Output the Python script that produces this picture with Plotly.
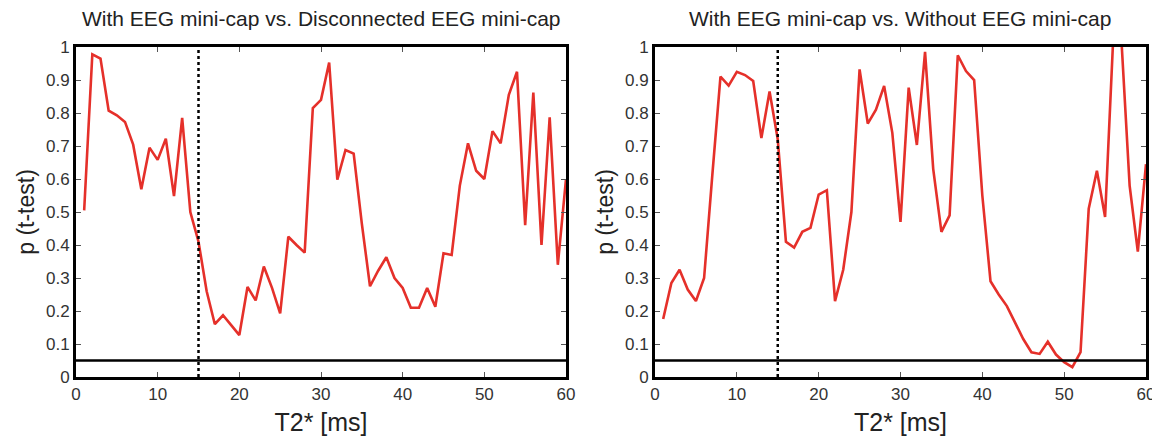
import plotly.graph_objects as go

t_ms = list(range(1, 61))
p_disconnected = [0.505, 0.978, 0.965, 0.807, 0.793, 0.773, 0.704, 0.569, 0.695, 0.658,
                  0.722, 0.548, 0.785, 0.50, 0.41, 0.26, 0.16, 0.187, 0.157, 0.127,
                  0.273, 0.232, 0.335, 0.27, 0.193, 0.425, 0.40, 0.377, 0.815, 0.84,
                  0.953, 0.598, 0.688, 0.677, 0.465, 0.275, 0.322, 0.363, 0.30, 0.27,
                  0.21, 0.21, 0.27, 0.213, 0.375, 0.37, 0.58, 0.708, 0.625, 0.60,
                  0.745, 0.708, 0.855, 0.925, 0.46, 0.862, 0.40, 0.787, 0.34, 0.60]
p_without = [0.176, 0.285, 0.325, 0.265, 0.23, 0.30, 0.61, 0.91, 0.883, 0.925,
             0.915, 0.897, 0.724, 0.865, 0.72, 0.41, 0.392, 0.44, 0.452, 0.553,
             0.566, 0.23, 0.325, 0.50, 0.932, 0.768, 0.81, 0.882, 0.74, 0.47,
             0.877, 0.703, 0.985, 0.63, 0.44, 0.49, 0.975, 0.927, 0.90, 0.55,
             0.29, 0.25, 0.215, 0.165, 0.115, 0.075, 0.07, 0.107, 0.068, 0.045,
             0.03, 0.075, 0.51, 0.625, 0.485, 1.03, 1.02, 0.58, 0.38, 0.645]

titles = ["With EEG mini-cap vs. Disconnected EEG mini-cap",
          "With EEG mini-cap vs. Without EEG mini-cap"]
x_ticks = [0, 10, 20, 30, 40, 50, 60]
y_ticks = [0, 0.1, 0.2, 0.3, 0.4, 0.5, 0.6, 0.7, 0.8, 0.9, 1]
y_ticktext = ["0", "0.1", "0.2", "0.3", "0.4", "0.5", "0.6", "0.7", "0.8", "0.9", "1"]
threshold = 0.05
echo_time = 15

# page has an 8px body margin; figure sized to fill the rest of the window
OFF = 8
W, H = 1160 - OFF, 441 - OFF
FONT = "Liberation Sans, Arial, sans-serif"
RED = "#e5302a"

fig = go.Figure()
fig.add_trace(go.Scatter(x=t_ms, y=p_disconnected, mode="lines",
                         line=dict(color=RED, width=2.6), xaxis="x", yaxis="y",
                         showlegend=False))
fig.add_trace(go.Scatter(x=t_ms, y=p_without, mode="lines",
                         line=dict(color=RED, width=2.6), xaxis="x2", yaxis="y2",
                         showlegend=False))

def px_x(v):
    return (v - OFF) / W

def px_y(v):
    return 1 - (v - OFF) / H

ydom = [px_y(377), px_y(47)]
xdoms = [[px_x(76), px_x(566)], [px_x(655), px_x(1146)]]

axis_common = dict(showline=True, linewidth=3, linecolor="black", mirror="ticks",
                   ticks="inside", ticklen=5, tickwidth=1, tickcolor="#555",
                   showgrid=False, zeroline=False, automargin=False,
                   tickfont=dict(family=FONT, size=17, color="#333"))

layout = dict(width=W, height=H, margin=dict(l=0, r=0, t=0, b=0),
              paper_bgcolor="white", plot_bgcolor="white",
              font=dict(family=FONT, color="#222"))

for i, key in enumerate(["", "2"]):
    layout["xaxis" + key] = dict(axis_common, domain=xdoms[i], range=[0, 60],
                                 tickvals=x_ticks, anchor="y" + key,
                                 title=dict(text="T2* [ms]", standoff=11,
                                            font=dict(family=FONT, size=25, color="#222")))
    layout["yaxis" + key] = dict(axis_common, domain=ydom, range=[0, 1],
                                 tickvals=y_ticks, ticktext=y_ticktext, anchor="x" + key,
                                 title=dict(text="p (t-test)", standoff=5,
                                            font=dict(family=FONT, size=23, color="#222")))

fig.update_layout(**layout)

shapes = []
annotations = []
for i, key in enumerate(["", "2"]):
    xref = "x" + key
    yref = "y" + key
    shapes.append(dict(type="line", xref=xref, yref=yref, x0=0, x1=60,
                       y0=threshold, y1=threshold, line=dict(color="black", width=2.5)))
    shapes.append(dict(type="line", xref=xref, yref=yref, x0=echo_time, x1=echo_time,
                       y0=0, y1=1, line=dict(color="black", width=2.5, dash="dot")))
    annotations.append(dict(text=titles[i], xref="paper", yref="paper",
                            x=(xdoms[i][0] + xdoms[i][1]) / 2, y=px_y(19),
                            xanchor="center", yanchor="middle", showarrow=False,
                            font=dict(family=FONT, size=21, color="#222")))
fig.update_layout(shapes=shapes, annotations=annotations)

fig.write_html("out.html")
